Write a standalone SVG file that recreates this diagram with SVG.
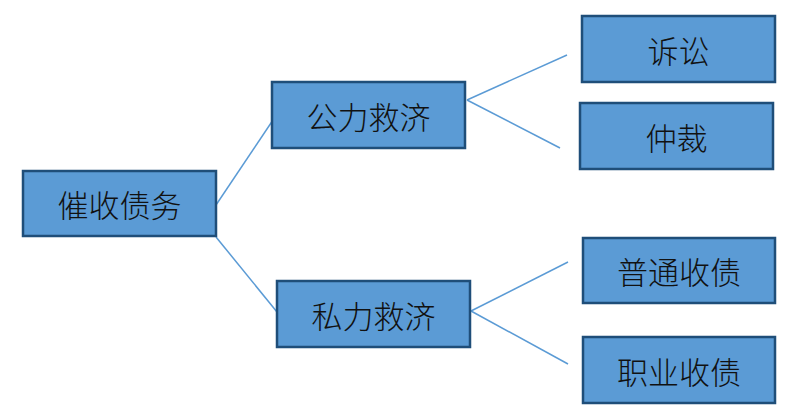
<svg xmlns="http://www.w3.org/2000/svg" width="796" height="416" viewBox="0 0 796 416">
<style>
.box{fill:#5B9BD5;stroke:#1F4E79;stroke-width:2.5}
.lbl{font-family:"Noto Sans CJK SC","Noto Sans CJK JP",sans-serif;font-size:31px;font-weight:300;fill:#111;text-anchor:middle;dominant-baseline:central}
.ln{stroke:#5B9BD5;stroke-width:1.5;fill:none}
</style>
<rect width="796" height="416" fill="#fff"/>
<g id="connectors">
<line class="ln" x1="216" y1="205" x2="273" y2="120"/>
<line class="ln" x1="216" y1="237" x2="277" y2="312"/>
<line class="ln" x1="467" y1="100" x2="567" y2="55"/>
<line class="ln" x1="467" y1="100" x2="560" y2="148"/>
<line class="ln" x1="471" y1="311" x2="568" y2="262"/>
<line class="ln" x1="471" y1="311" x2="568" y2="364"/>
</g>
<g id="n-root"><rect class="box" x="23" y="171" width="193" height="65"/><text class="lbl" x="119.5" y="203.5">催收债务</text></g>
<g id="n-public"><rect class="box" x="272" y="82" width="193" height="66"/><text class="lbl" x="368.5" y="115">公力救济</text></g>
<g id="n-private"><rect class="box" x="277" y="281" width="193" height="66"/><text class="lbl" x="373.5" y="314">私力救济</text></g>
<g id="n-lawsuit"><rect class="box" x="582" y="16" width="193" height="66"/><text class="lbl" x="678.5" y="49">诉讼</text></g>
<g id="n-arbitration"><rect class="box" x="580" y="103" width="193" height="66"/><text class="lbl" x="676.5" y="136">仲裁</text></g>
<g id="n-normal"><rect class="box" x="583" y="238" width="192" height="65"/><text class="lbl" x="679" y="270.5">普通收债</text></g>
<g id="n-pro"><rect class="box" x="583" y="337" width="192" height="66"/><text class="lbl" x="679" y="370">职业收债</text></g>
</svg>
